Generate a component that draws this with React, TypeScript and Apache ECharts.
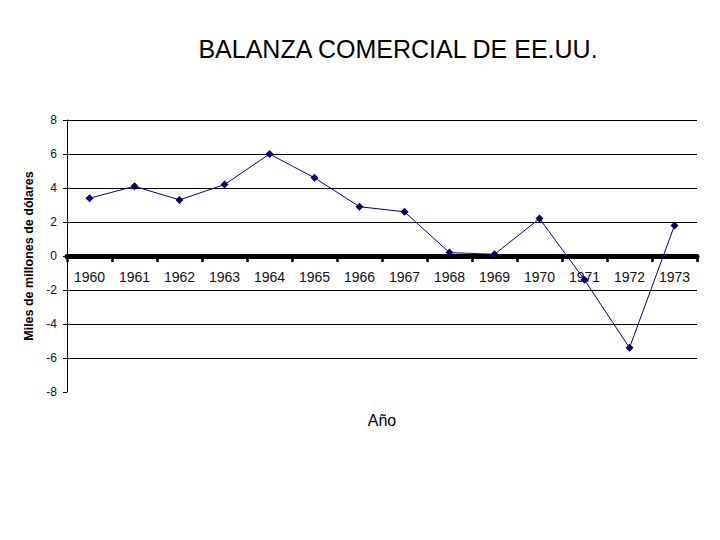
import React, { useEffect, useRef } from "react";
import * as echarts from "echarts";

const years = ["1960", "1961", "1962", "1963", "1964", "1965", "1966", "1967", "1968", "1969", "1970", "1971", "1972", "1973"];
const balance = [3.4, 4.1, 3.3, 4.2, 6.0, 4.6, 2.9, 2.6, 0.2, 0.1, 2.2, -1.4, -5.4, 1.8];
const titleText = "BALANZA COMERCIAL DE EE.UU.";
const yAxisTitle = "Miles de millones de dólares";
const xAxisTitle = "Año";

const FONT = "Arial, 'Liberation Sans', Helvetica, sans-serif";

export default function App() {
  const ref = useRef<HTMLDivElement>(null);
  useEffect(() => {
    if (!ref.current) return;
    const chart = echarts.init(ref.current, null, { renderer: "svg" });
    chart.setOption({
      animation: false,
      backgroundColor: "#ffffff",
      title: {
        text: titleText,
        left: 393,
        textAlign: "center",
        top: 31,
        textStyle: { fontFamily: FONT, fontSize: 25, fontWeight: "normal", color: "#000" },
      },
      grid: { left: 67, right: 23, top: 120, bottom: 148, containLabel: false },
      xAxis: {
        type: "category",
        data: years,
        boundaryGap: true,
        position: "bottom",
        offset: -136,
        axisLine: { onZero: false, lineStyle: { color: "#000", width: 5 } },
        axisTick: { show: true, length: 6, lineStyle: { color: "#000", width: 2.5 } },
        axisLabel: { margin: 14, fontFamily: FONT, fontSize: 14, color: "#111" },
        splitLine: { show: false },
      },
      yAxis: {
        type: "value",
        min: -8,
        max: 8,
        interval: 2,
        name: yAxisTitle,
        nameLocation: "middle",
        nameRotate: 90,
        nameGap: 32,
        nameTextStyle: { fontFamily: FONT, fontSize: 12.5, fontWeight: "bold", color: "#000" },
        axisLine: { show: true, onZero: false, lineStyle: { color: "#000", width: 1 } },
        axisTick: { show: true, length: 4, lineStyle: { color: "#000" } },
        axisLabel: { margin: 10, fontFamily: FONT, fontSize: 12, color: "#111" },
        splitLine: {
          show: true,
          lineStyle: {
            color: ["rgba(0,0,0,0)", "#000", "#000", "#000", "#000", "#000", "#000", "#000", "#000"],
            width: 1,
          },
        },
      },
      graphic: [
        {
          type: "text",
          x: 382,
          y: 420,
          style: {
            text: xAxisTitle,
            fontFamily: FONT,
            fontSize: 16,
            fill: "#000",
            align: "center",
            verticalAlign: "middle",
          },
        },
      ],
      series: [
        {
          type: "line",
          data: balance,
          symbol: "diamond",
          symbolSize: 8,
          lineStyle: { color: "#000080", width: 1 },
          itemStyle: { color: "#000066" },
          z: 5,
        },
      ],
    });
    return () => chart.dispose();
  }, []);
  return (
    <div
      ref={ref}
      style={{ position: "fixed", left: 0, top: 0, width: 720, height: 540, background: "#fff" }}
    />
  );
}
